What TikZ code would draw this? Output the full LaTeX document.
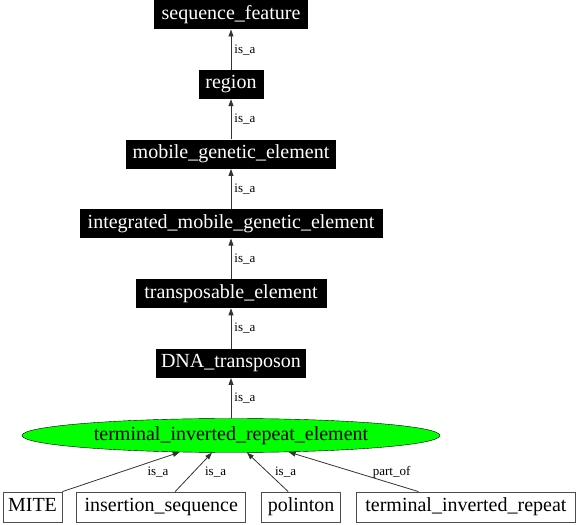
\documentclass[tikz,border=0pt]{standalone}
\usepackage{fontspec}
\setmainfont{Liberation Serif}
\usetikzlibrary{positioning, arrows.meta, shapes.geometric}
\tikzset{
  rect1/.style = {
    shape = rectangle,
    fill = black,
    text = white,
    inner xsep = 3pt,
    inner ysep = 0pt,
    minimum height = 29pt,
    text height = 13pt,
    text depth = 4pt,
    font = \fontsize{20}{22}\selectfont,
  }
}
\tikzset{
  rect2/.style = {
    shape = rectangle,
    draw = black!70,
    line width = 0.8pt,
    inner xsep = 2pt,
    inner ysep = 0pt,
    minimum height = 30pt,
    text height = 13pt,
    text depth = 4pt,
    font = \fontsize{20}{22}\selectfont,
  }
}
\tikzset{
  ell1/.style = {
    shape = ellipse,
    draw = black,
    fill = green,
    inner sep = 0pt,
    minimum width = 418pt,
    minimum height = 34pt,
    font = \fontsize{20}{22}\selectfont,
  }
}
\tikzset{
  arrow1/.style = {
    draw = black!80, line width = 0.8pt, -{Triangle[length = 7pt, width = 5pt]},
  }
}
\tikzset{
  label1/.style = {
    anchor = west, inner sep = 3pt,
    font = \fontsize{13}{15}\selectfont,
  },
  label2/.style = {
    inner sep = 0pt,
    font = \fontsize{13}{15}\selectfont,
  }
}

\begin{document}
\begin{tikzpicture}[x = 1pt, y = 1pt, node distance = 40.3pt]
        \useasboundingbox (0,0) rectangle (576,525);
        \node[ell1](tire) at (231,89.5){terminal\_inverted\_repeat\_element};
        \node[rect1, minimum width = 150pt, above=of tire](dnat){DNA\_transposon};
        \node[rect1, minimum width = 191pt, above=of dnat](tpe){transposable\_element};
        \node[rect1, minimum width = 303pt, above=of tpe](imge){integrated\_mobile\_genetic\_element};
        \node[rect1, minimum width = 210pt, above=of imge](mge){mobile\_genetic\_element};
        \node[rect1, minimum width = 65pt, above=of mge](reg){region};
        \node[rect1, minimum width = 154pt, above=of reg](seqf){sequence\_feature};
        \node[rect2, minimum width = 59pt](mite) at (32.5,18){MITE};
        \node[rect2, minimum width = 169pt, right=14pt of mite](ins){insertion\_sequence};
        \node[rect2, minimum width = 79pt, right=15pt of ins](poli){polinton};
        \node[rect2, minimum width = 219pt, right=15pt of poli](tir){terminal\_inverted\_repeat};
        \draw[arrow1](reg) -- node[label1]{is\_a} (seqf);
        \draw[arrow1](mge) -- node[label1]{is\_a} (reg);
        \draw[arrow1](imge) -- node[label1]{is\_a} (mge);
        \draw[arrow1](tpe) -- node[label1]{is\_a} (imge);
        \draw[arrow1](dnat) -- node[label1]{is\_a} (tpe);
        \draw[arrow1](tire) -- node[label1]{is\_a} (dnat);
        \draw[arrow1](mite.north east) -- node[label2, xshift = 37pt]{is\_a} (tire.198);
        \draw[arrow1](ins.48) -- node[label2, xshift = 22pt]{is\_a} (tire.222);
        \draw[arrow1](poli.130) -- node[label2, xshift = 18pt]{is\_a} (tire.313);
        \draw[arrow1](tir.162) -- node[label2, xshift = 38pt]{part\_of} (tire.344);
    \end{tikzpicture}
\end{document}
